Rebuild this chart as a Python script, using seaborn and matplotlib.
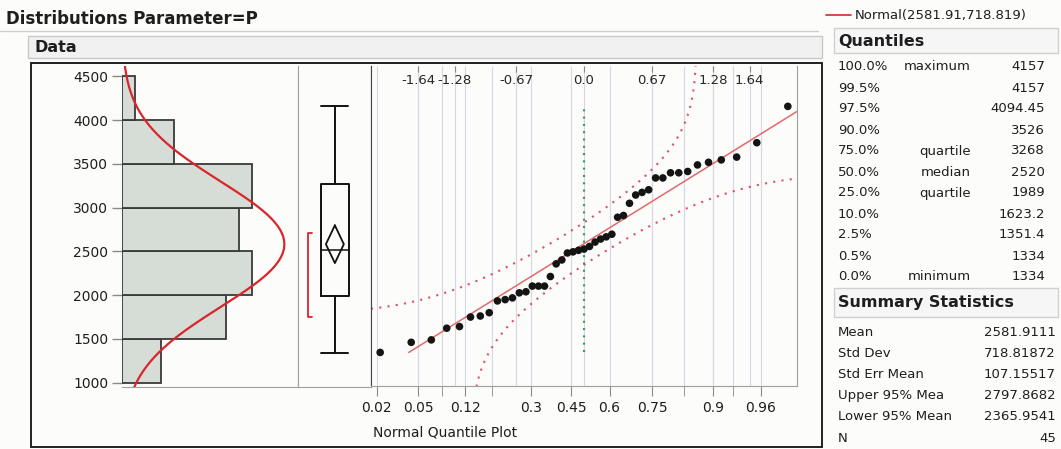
import numpy as np
import pandas as pd
import seaborn as sns
import matplotlib.pyplot as plt
from matplotlib.patches import Rectangle
from statistics import NormalDist

# sorted values of P
param_p = [1334, 1450, 1478, 1612, 1631, 1740, 1752, 1790, 1925, 1940, 1960,
           2018, 2030, 2095, 2095, 2095, 2205, 2350, 2395, 2475, 2488,
           2505, 2520, 2550, 2600, 2635, 2660, 2690, 2885, 2905,
           3045, 3140, 3170, 3200, 3336, 3336, 3395, 3395, 3410, 3485,
           3515, 3543, 3575, 3740, 4157]
bin_edges = [1000, 1500, 2000, 2500, 3000, 3500, 4000, 4500]
y_ticks = [1000, 1500, 2000, 2500, 3000, 3500, 4000, 4500]

# fitted normal and box-plot numbers from the report tables
mean_p, sd_p = 2581.9111, 718.81872
ci_low, ci_high = 2365.9541, 2797.8682
q_min, q1, q_med, q3, q_max = 1334, 1989, 2520, 3268, 4157
shortest_half = (1750, 2705)
lillie_d = 0.132

# normal quantile plot axes
top_z = [-1.64, -1.28, -0.67, 0.0, 0.67, 1.28, 1.64]
top_labels = ["-1.64", "-1.28", "-0.67", "0.0", "0.67", "1.28", "1.64"]
prob_ticks = [0.02, 0.05, 0.12, 0.3, 0.45, 0.6, 0.75, 0.9, 0.96]
prob_labels = ["0.02", "0.05", "0.12", "0.3", "0.45", "0.6", "0.75", "0.9", "0.96"]
prob_minor = [0.08, 0.18, 0.84, 0.93]

# report tables
q_pct = ["100.0%", "99.5%", "97.5%", "90.0%", "75.0%", "50.0%", "25.0%",
         "10.0%", "2.5%", "0.5%", "0.0%"]
q_name = ["maximum", "", "", "", "quartile", "median", "quartile", "", "", "", "minimum"]
q_val = ["4157", "4157", "4094.45", "3526", "3268", "2520", "1989", "1623.2",
         "1351.4", "1334", "1334"]
stat_names = ["Mean", "Std Dev", "Std Err Mean", "Upper 95% Mea", "Lower 95% Mean", "N"]
stat_vals = ["2581.9111", "718.81872", "107.15517", "2797.8682", "2365.9541", "45"]

sns.set_style("white")
plt.rcParams["font.family"] = ["DejaVu Sans"]
plt.rcParams["text.color"] = "#1e1e1e"

W, H = 1061, 449
bg_col = "#fcfcfa"
red = "#d8262c"
fig = plt.figure(figsize=(W / 100, H / 100), dpi=100, facecolor=bg_col)


def px_axes(x0, y0, x1, y1):
    return fig.add_axes([x0 / W, 1 - y1 / H, (x1 - x0) / W, (y1 - y0) / H])


# background layer in pixel units
bg = fig.add_axes([0, 0, 1, 1])
bg.set_xlim(0, W)
bg.set_ylim(H, 0)
bg.axis("off")
bg.text(6, 19, "Distributions Parameter=P", fontsize=12, fontweight="bold", va="center")
bg.plot([0, 818], [31, 31], color="#cfcfcf", lw=1)
bg.add_patch(Rectangle((28, 36), 794, 22, facecolor="#f1f1f1", edgecolor="#c9c9c9", lw=1))
bg.text(34, 47.5, "Data", fontsize=11.5, fontweight="bold", va="center")
bg.add_patch(Rectangle((31, 63), 791, 384, facecolor=bg_col, edgecolor="#222222", lw=1.4))
bg.text(373, 433, "Normal Quantile Plot", fontsize=10, va="center")

# legend
bg.plot([826, 851], [15, 15], color=red, lw=1.2)
bg.text(855, 15, "Normal(2581.91,718.819)", fontsize=9.5, va="center")

# quantiles table
bg.add_patch(Rectangle((834, 28), 224, 25, facecolor="#f6f6f6", edgecolor="#d0d0d0", lw=1))
bg.text(838, 41, "Quantiles", fontsize=11.5, fontweight="bold", va="center")
for i, (pc, nm, vl) in enumerate(zip(q_pct, q_name, q_val)):
    yy = 67 + 21 * i
    bg.text(838, yy, pc, fontsize=9.5, va="center")
    bg.text(971, yy, nm, fontsize=9.5, va="center", ha="right")
    bg.text(1045, yy, vl, fontsize=9.5, va="center", ha="right")

# summary statistics table
bg.add_patch(Rectangle((834, 288), 224, 29, facecolor="#f6f6f6", edgecolor="#d0d0d0", lw=1))
bg.text(838, 303, "Summary Statistics", fontsize=11.5, fontweight="bold", va="center")
for i, (nm, vl) in enumerate(zip(stat_names, stat_vals)):
    yy = 332 + 21.2 * i
    bg.text(838, yy, nm, fontsize=9.5, va="center")
    bg.text(1056, yy, vl, fontsize=9.5, va="center", ha="right")

ylim = (949, 4620)
n = len(param_p)
nd = NormalDist()

# ---- histogram ----
ax_h = px_axes(122, 66, 298, 387)
ax_h.set_facecolor(bg_col)
sns.histplot(y=param_p, bins=bin_edges, ax=ax_h, color="#d5ddd6", alpha=1,
             edgecolor="#3a3a3a", linewidth=1.3)
yy = np.linspace(ylim[0], ylim[1], 300)
dens = np.array([NormalDist(mean_p, sd_p).pdf(v) for v in yy]) * n * 500
ax_h.plot(dens, yy, color=red, lw=1.6)
ax_h.set_xlim(0, 176 / 13)
ax_h.set_ylim(*ylim)
ax_h.set_yticks(y_ticks)
ax_h.set_xticks([])
ax_h.set_xlabel("")
ax_h.set_ylabel("")
ax_h.tick_params(axis="y", left=True, length=7, width=1, color="#8a8a8a",
                 labelsize=10, pad=3, labelcolor="#1e1e1e")
for s in ["top", "left"]:
    ax_h.spines[s].set_visible(False)
for s in ["bottom", "right"]:
    ax_h.spines[s].set_color("#a0a0a0")

# ---- outlier box plot ----
ax_b = px_axes(298, 66, 371, 387)
ax_b.set_facecolor(bg_col)
stats = [{"med": q_med, "q1": q1, "q3": q3, "whislo": q_min, "whishi": q_max, "fliers": []}]
ax_b.bxp(stats, positions=[0.505], widths=0.388, capwidths=0.37, showfliers=False,
         boxprops=dict(color="#111111", lw=1.4), medianprops=dict(color="#111111", lw=1.1),
         whiskerprops=dict(color="#111111", lw=1.4), capprops=dict(color="#111111", lw=1.4))
cx, hw = 0.505, 0.123
ax_b.plot([cx, cx + hw, cx, cx - hw, cx], [ci_high, mean_p, ci_low, mean_p, ci_high],
          color="#111111", lw=1.3)
bx, tk = 0.137, 0.055
ax_b.plot([bx + tk, bx, bx, bx + tk],
          [shortest_half[1], shortest_half[1], shortest_half[0], shortest_half[0]],
          color=red, lw=1.3)
ax_b.set_xlim(0, 1)
ax_b.set_ylim(*ylim)
ax_b.set_xticks([])
ax_b.set_yticks([])
ax_b.spines["top"].set_visible(False)
ax_b.spines["left"].set_color("#a0a0a0")
ax_b.spines["bottom"].set_color("#a0a0a0")
ax_b.spines["right"].set_color("#444444")

# ---- normal quantile plot ----
ax_q = px_axes(371, 66, 797, 386)
ax_q.set_facecolor(bg_col)
zlim = (-2.11, 2.11)
grid_z = [nd.inv_cdf(p) for p in prob_ticks + prob_minor] + top_z
ax_q.vlines(grid_z, ylim[0], ylim[1], color="#d8d5e4", lw=0.8, zorder=0)

zs = [nd.inv_cdf((i + 1) / (n + 1)) for i in range(n)]
qdf = pd.DataFrame({"z": zs, "P": param_p})

zgrid = np.linspace(zlim[0], zlim[1], 500)
up, lo = [], []
for z in zgrid:
    c = nd.cdf(z)
    up.append(mean_p + sd_p * nd.inv_cdf(c + lillie_d) if c + lillie_d < 1 else np.nan)
    lo.append(mean_p + sd_p * nd.inv_cdf(c - lillie_d) if c - lillie_d > 0 else np.nan)
ax_q.plot(zgrid, up, color="#e0506a", lw=1.5, ls=(0, (1, 3)))
ax_q.plot(zgrid, lo, color="#e0506a", lw=1.5, ls=(0, (1, 3)))
ax_q.plot([0, 0], [q_min, q_max], color="#2e9e5a", lw=1.5, ls=(0, (1, 2.5)))
z_fit = np.array([(q_min - mean_p) / sd_p, zlim[1]])
ax_q.plot(z_fit, mean_p + sd_p * z_fit, color="#e26a6a", lw=1.1)
sns.scatterplot(data=qdf, x="z", y="P", ax=ax_q, color="#141414", s=30,
                edgecolor="none", zorder=5)

ax_q.set_xlim(*zlim)
ax_q.set_ylim(*ylim)
ax_q.set_yticks([])
ax_q.set_xticks([nd.inv_cdf(p) for p in prob_ticks], labels=prob_labels)
ax_q.set_xticks([nd.inv_cdf(p) for p in prob_minor], minor=True)
ax_q.tick_params(axis="x", which="both", bottom=True, direction="out", length=7,
                 color="#8a8a8a", labelsize=10, pad=4, labelcolor="#1e1e1e")
ax_q.set_xlabel("")
ax_q.set_ylabel("")
sec = ax_q.secondary_xaxis("top")
sec.set_xticks(top_z, labels=top_labels)
sec.tick_params(direction="in", length=4, color="#8a8a8a", labelsize=9.5, pad=-15)
sec.spines["top"].set_visible(False)
ax_q.spines["top"].set_visible(False)
ax_q.spines["left"].set_color("#444444")
ax_q.spines["right"].set_color("#a0a0a0")
ax_q.spines["bottom"].set_color("#a0a0a0")

fig.savefig("out.png", dpi=100, facecolor=bg_col)
